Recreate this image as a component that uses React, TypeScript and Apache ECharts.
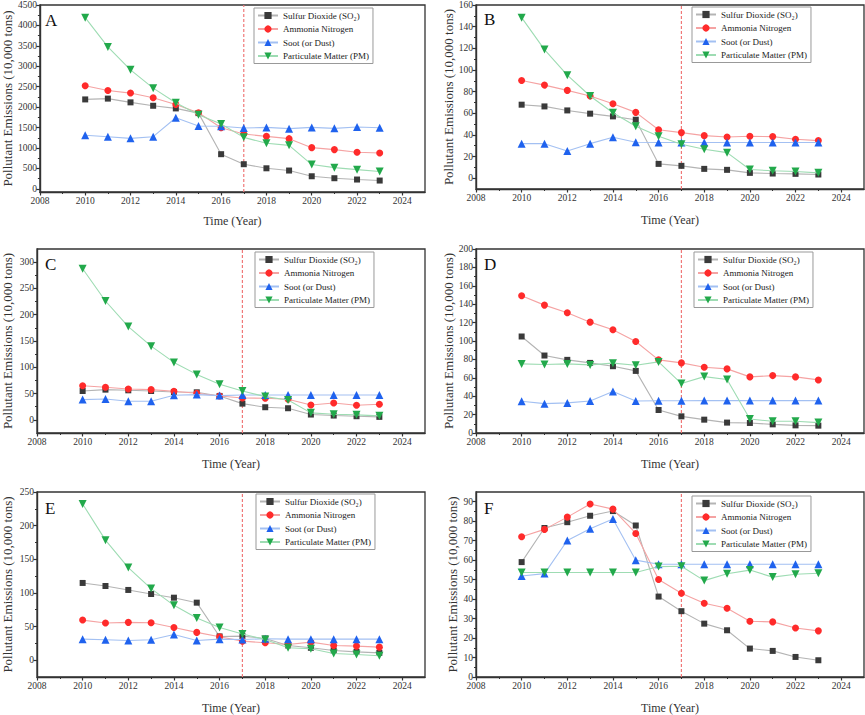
import React, { useEffect, useRef } from "react";
import * as echarts from "echarts";

const YEARS = [2010, 2011, 2012, 2013, 2014, 2015, 2016, 2017, 2018, 2019, 2020, 2021, 2022, 2023];
const SERIES_NAMES = ["Sulfur Dioxide (SO₂)", "Ammonia Nitrogen", "Soot (or Dust)", "Particulate Matter (PM)"];
const X_TICKS = [2008, 2010, 2012, 2014, 2016, 2018, 2020, 2022, 2024];
const X_MINOR = [2009, 2011, 2013, 2015, 2017, 2019, 2021, 2023];
const POLICY_YEAR = 2017;

const A_SO2 = [2190, 2210, 2118, 2035, 1970, 1855, 850, 605, 505, 450, 310, 262, 230, 205];
const A_NH3N = [2525, 2410, 2345, 2230, 2068, 1865, 1497, 1343, 1286, 1230, 1010, 962, 897, 880];
const A_SOOT = [1312, 1278, 1237, 1278, 1741, 1538, 1535, 1490, 1506, 1475, 1506, 1482, 1514, 1497];
const A_PM = [4190, 3475, 2913, 2466, 2108, 1815, 1587, 1262, 1116, 1066, 596, 521, 472, 425];
const A_YTICKS = [0, 500, 1000, 1500, 2000, 2500, 3000, 3500, 4000, 4500];

const B_SO2 = [67.9, 66.3, 62.6, 59.6, 57.1, 54.0, 13.2, 11.4, 8.6, 7.7, 4.9, 4.3, 4.0, 3.4];
const B_NH3N = [90.3, 86.0, 81.1, 75.9, 68.8, 60.8, 44.8, 42.1, 39.3, 38.1, 38.7, 38.4, 35.9, 34.7];
const B_SOOT = [31.9, 31.9, 25.2, 31.9, 37.8, 33.2, 32.9, 32.9, 32.9, 32.9, 32.9, 32.9, 32.9, 32.9];
const B_PM = [148.3, 118.8, 95.2, 75.9, 60.5, 47.9, 38.7, 31.3, 26.7, 23.6, 8.0, 6.8, 6.1, 4.9];
const B_YTICKS = [0, 20, 40, 60, 80, 100, 120, 140, 160];

const C_SO2 = [54.9, 57.5, 56.2, 54.9, 53.0, 52.4, 45.5, 30.9, 24.0, 22.1, 10.1, 8.2, 6.9, 5.7];
const C_NH3N = [65.0, 61.9, 58.7, 57.5, 54.3, 50.5, 45.5, 41.7, 41.0, 39.2, 28.4, 32.2, 27.8, 29.7];
const C_SOOT = [38.5, 39.8, 35.4, 35.4, 46.7, 48.0, 46.1, 47.4, 47.4, 47.4, 47.4, 47.4, 47.4, 47.4];
const C_PM = [287.4, 226.1, 177.5, 140.2, 109.3, 86.5, 67.6, 54.9, 44.2, 37.9, 13.3, 10.7, 9.5, 7.6];
const C_YTICKS = [0, 50, 100, 150, 200, 250, 300];

const D_SO2 = [104.9, 84.2, 79.5, 76.2, 72.6, 67.5, 25.0, 18.1, 14.5, 11.3, 10.9, 9.4, 8.3, 8.0];
const D_NH3N = [149.2, 139.0, 130.7, 120.5, 112.2, 99.5, 79.5, 76.2, 71.5, 69.7, 61.0, 62.4, 61.0, 57.7];
const D_SOOT = [34.5, 31.9, 32.7, 34.8, 45.0, 34.8, 35.0, 35.0, 35.2, 35.2, 35.2, 35.2, 35.2, 35.2];
const D_PM = [75.1, 74.4, 75.1, 74.0, 75.9, 73.7, 77.3, 53.7, 61.3, 58.1, 15.2, 12.7, 12.7, 11.3];
const D_YTICKS = [0, 20, 40, 60, 80, 100, 120, 140, 160, 180, 200];

const E_SO2 = [114.8, 110.3, 104.4, 98.4, 92.9, 85.5, 35.3, 35.8, 32.3, 21.9, 18.4, 14.4, 12.4, 10.9];
const E_NH3N = [59.6, 55.2, 56.2, 55.7, 48.7, 41.3, 34.8, 28.3, 25.8, 23.4, 26.8, 21.9, 20.9, 19.4];
const E_SOOT = [31.3, 30.3, 29.3, 30.3, 38.3, 29.3, 31.3, 30.8, 31.8, 31.3, 31.3, 31.3, 31.3, 31.3];
const E_PM = [232.1, 178.4, 137.7, 106.4, 81.5, 62.6, 48.7, 38.8, 30.8, 18.4, 16.9, 9.9, 8.4, 6.5];
const E_YTICKS = [0, 50, 100, 150, 200, 250];

const F_SO2 = [59.0, 76.5, 79.5, 82.8, 85.2, 77.8, 41.3, 33.8, 27.4, 24.0, 14.6, 13.4, 10.3, 8.6];
const F_NH3N = [72.0, 75.8, 82.1, 88.8, 86.2, 73.7, 50.1, 43.0, 37.9, 35.3, 28.6, 28.3, 25.2, 23.7];
const F_SOOT = [51.9, 53.1, 70.1, 76.1, 81.1, 60.0, 57.9, 57.9, 57.9, 57.9, 57.9, 57.9, 57.9, 57.9];
const F_PM = [53.7, 53.7, 53.7, 53.7, 53.7, 53.7, 56.7, 56.9, 49.5, 53.0, 54.9, 51.3, 52.8, 53.3];
const F_YTICKS = [0, 10, 20, 30, 40, 50, 60, 70, 80, 90];

const FONT = "Liberation Serif";
const AXIS_COLOR = "#333";
const DASH_COLOR = "#f07878";

const SERIES_STYLE = [
  { symbol: "rect", size: 6, rotate: 0, marker: "#3a3a3a", line: "#b4b4b4" },
  { symbol: "circle", size: 7, rotate: 0, marker: "#ff2b2b", line: "#f5a3a3" },
  { symbol: "triangle", size: 8, rotate: 0, marker: "#1f62ee", line: "#a3c0f2" },
  { symbol: "triangle", size: 8, rotate: 180, marker: "#22a94b", line: "#9edcb3" },
];

const PANELS = [
  { label: "A", data: [A_SO2, A_NH3N, A_SOOT, A_PM], yTicks: A_YTICKS, ymin: -75, ymax: 4500,
    grid: { left: 37, top: 5, width: 388, height: 187 }, legend: { left: 254, top: 8 }, text: { x: 45, y: 20.5 }, yGap: 24, xGap: 23 },
  { label: "B", data: [B_SO2, B_NH3N, B_SOOT, B_PM], yTicks: B_YTICKS, ymin: -10, ymax: 160,
    grid: { left: 476, top: 5, width: 388, height: 184 }, legend: { left: 692, top: 7 }, text: { x: 484, y: 19.5 }, yGap: 21, xGap: 25 },
  { label: "C", data: [C_SO2, C_NH3N, C_SOOT, C_PM], yTicks: C_YTICKS, ymin: -25, ymax: 325,
    grid: { left: 37, top: 249, width: 388, height: 184 }, legend: { left: 255, top: 252 }, text: { x: 45, y: 264 }, yGap: 23, xGap: 25 },
  { label: "D", data: [D_SO2, D_NH3N, D_SOOT, D_PM], yTicks: D_YTICKS, ymin: 0, ymax: 200,
    grid: { left: 476, top: 249, width: 388, height: 184 }, legend: { left: 694, top: 252 }, text: { x: 484, y: 264 }, yGap: 21, xGap: 25 },
  { label: "E", data: [E_SO2, E_NH3N, E_SOOT, E_PM], yTicks: E_YTICKS, ymin: -25, ymax: 250,
    grid: { left: 37, top: 492, width: 388, height: 185 }, legend: { left: 256, top: 494 }, text: { x: 45, y: 508 }, yGap: 23, xGap: 25 },
  { label: "F", data: [F_SO2, F_NH3N, F_SOOT, F_PM], yTicks: F_YTICKS, ymin: 0, ymax: 95,
    grid: { left: 476, top: 492, width: 388, height: 185 }, legend: { left: 692, top: 496 }, text: { x: 484, y: 508 }, yGap: 17, xGap: 25 },
];

function minorOf(ticks: number[], min: number, max: number) {
  const out: number[] = [];
  const step = ticks[1] - ticks[0];
  for (let i = 0; i < ticks.length; i++) {
    const m = ticks[i] + step / 2;
    if (m < max) out.push(m);
  }
  if (ticks[0] - step / 2 > min) out.unshift(ticks[0] - step / 2);
  return out;
}

const plain = (v: number) => String(v);

function buildOption() {
  const grid: any[] = [];
  const xAxis: any[] = [];
  const yAxis: any[] = [];
  const series: any[] = [];
  const legend: any[] = [];
  const graphic: any[] = [];

  PANELS.forEach((p, i) => {
    grid.push({ ...p.grid, show: true, borderColor: AXIS_COLOR, borderWidth: 1.3, backgroundColor: "transparent", containLabel: false });
    const lineStyle = { color: AXIS_COLOR, width: 1.4 };
    xAxis.push({
      gridIndex: i, type: "value", min: 2008, max: 2025, position: "bottom",
      axisLine: { show: true, onZero: false, lineStyle },
      axisTick: { show: true, length: 3.5, customValues: X_TICKS, lineStyle: { color: AXIS_COLOR, width: 1.2 } },
      axisLabel: { customValues: X_TICKS, formatter: plain, fontFamily: FONT, fontSize: 9.5, color: "#333", margin: 4 },
      splitLine: { show: false },
      name: "Time (Year)", nameLocation: "middle", nameGap: p.xGap,
      nameTextStyle: { fontFamily: FONT, fontSize: 12, color: "#333", fontWeight: "normal" },
    });
    xAxis.push({
      gridIndex: i, type: "value", min: 2008, max: 2025, position: "bottom",
      axisLine: { show: false, onZero: false },
      axisTick: { show: true, length: 2, customValues: X_MINOR, lineStyle: { color: AXIS_COLOR, width: 1 } },
      axisLabel: { show: false }, splitLine: { show: false },
    });
    yAxis.push({
      gridIndex: i, type: "value", min: p.ymin, max: p.ymax, position: "left",
      axisLine: { show: true, onZero: false, lineStyle },
      axisTick: { show: true, length: 3.5, customValues: p.yTicks, lineStyle: { color: AXIS_COLOR, width: 1.2 } },
      axisLabel: { customValues: p.yTicks, formatter: plain, fontFamily: FONT, fontSize: 9.5, color: "#333", margin: 3 },
      splitLine: { show: false },
      name: "Pollutant Emissions (10,000 tons)", nameLocation: "middle", nameGap: p.yGap,
      nameTextStyle: { fontFamily: FONT, fontSize: 13, color: "#333", fontWeight: "normal" },
    });
    yAxis.push({
      gridIndex: i, type: "value", min: p.ymin, max: p.ymax, position: "left",
      axisLine: { show: false, onZero: false },
      axisTick: { show: true, length: 2, customValues: minorOf(p.yTicks, p.ymin, p.ymax), lineStyle: { color: AXIS_COLOR, width: 1 } },
      axisLabel: { show: false }, splitLine: { show: false },
    });

    // policy reference line (2017), drawn through the axes
    series.push({
      type: "line", name: "policy-" + p.label, xAxisIndex: 2 * i, yAxisIndex: 2 * i,
      data: [[POLICY_YEAR, p.ymin], [POLICY_YEAR, p.ymax]],
      symbol: "none", silent: true,
      lineStyle: { color: DASH_COLOR, type: [3, 2], width: 1.2 },
      itemStyle: { color: DASH_COLOR },
      emphasis: { disabled: true },
      z: 1,
    });

    p.data.forEach((arr, s) => {
      const st = SERIES_STYLE[s];
      series.push({
        type: "line", name: SERIES_NAMES[s], xAxisIndex: 2 * i, yAxisIndex: 2 * i,
        data: YEARS.map((y, k) => [y, arr[k]]),
        symbol: st.symbol, symbolSize: st.size, symbolRotate: st.rotate,
        showAllSymbol: true,
        itemStyle: { color: st.marker },
        lineStyle: { color: st.line, width: 1.1 },
        emphasis: { disabled: true },
        z: 3 + s,
      });
    });

    legend.push({
      left: p.legend.left, top: p.legend.top, orient: "vertical",
      itemWidth: 20, itemHeight: 9, itemGap: 4.5,
      padding: [3, 4, 3, 3],
      borderColor: "#999", borderWidth: 1, backgroundColor: "#fff",
      textStyle: { fontFamily: FONT, fontSize: 9, color: "#222", lineHeight: 9 },
      data: SERIES_NAMES,
      selectedMode: false,
    });

    graphic.push({
      type: "text", x: p.text.x, y: p.text.y,
      style: { text: p.label, font: `17px ${FONT}`, fill: "#111", verticalAlign: "middle", align: "left" },
    });
  });

  return { animation: false, backgroundColor: "#fff", textStyle: { fontFamily: FONT }, grid, xAxis, yAxis, series, legend, graphic };
}

export default function App() {
  const ref = useRef<HTMLDivElement>(null);
  useEffect(() => {
    if (!ref.current) return;
    const chart = echarts.init(ref.current, undefined, { renderer: "svg" });
    chart.setOption(buildOption() as any);
    return () => chart.dispose();
  }, []);
  return <div ref={ref} style={{ position: "fixed", left: 0, top: 0, width: 865, height: 715 }} />;
}
